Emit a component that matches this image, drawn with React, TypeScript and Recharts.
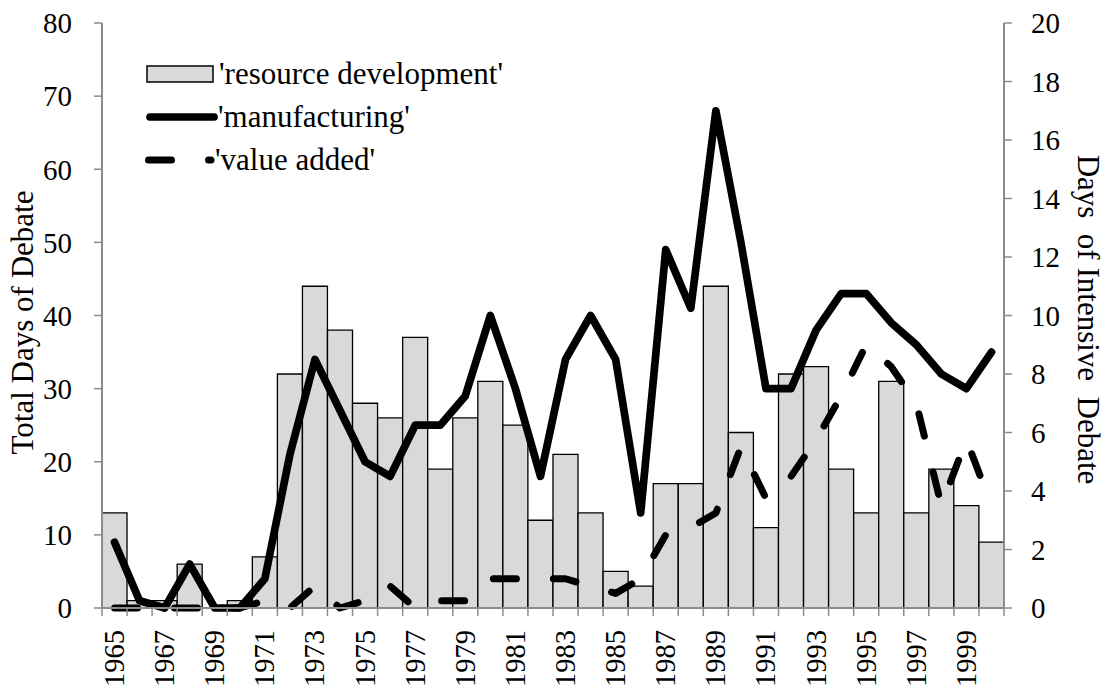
import React from "react";
import { ComposedChart, Bar, Line, XAxis, YAxis, Legend } from "recharts";

const YEARS = [
  "1965", "1966", "1967", "1968", "1969", "1970", "1971", "1972", "1973",
  "1974", "1975", "1976", "1977", "1978", "1979", "1980", "1981", "1982",
  "1983", "1984", "1985", "1986", "1987", "1988", "1989", "1990", "1991",
  "1992", "1993", "1994", "1995", "1996", "1997", "1998", "1999", "2000",
];

// left axis: total days of debate
const RESOURCE_DEVELOPMENT = [
  13, 1, 1, 6, 0, 1, 7, 32, 44, 38, 28, 26, 37, 19, 26, 31, 25, 12,
  21, 13, 5, 3, 17, 17, 44, 24, 11, 32, 33, 19, 13, 31, 13, 19, 14, 9,
];

// right axis: days of intensive debate
const MANUFACTURING = [
  2.25, 0.25, 0, 1.5, 0, 0, 1, 5.25, 8.5, 6.75, 5, 4.5, 6.25, 6.25, 7.25, 10, 7.5, 4.5,
  8.5, 10, 8.5, 3.25, 12.25, 10.25, 17, 12.5, 7.5, 7.5, 9.5, 10.75, 10.75, 9.75, 9, 8, 7.5, 8.75,
];

const VALUE_ADDED = [
  0, 0, 0, 0, 0, 0, 0.25, 0, 0.75, 0, 0.25, 0.75, 0, 0.25, 0.25, 1, 1, 1,
  1, 0.75, 0.5, 1, 2.5, 2.75, 3.25, 5.5, 3.75, 4.5, 5.75, 7.25, 9, 8.25, 7, 3.5, 5.75, 3.5,
];

const LEFT_TICKS = [0, 10, 20, 30, 40, 50, 60, 70, 80];
const RIGHT_TICKS = [0, 2, 4, 6, 8, 10, 12, 14, 16, 18, 20];

const FONT = "'Liberation Serif', 'Times New Roman', serif";
const AXIS_GRAY = "#8c8c8c";
const BAR_FILL = "#d9d9d9";

const WIDTH = 1107;
const HEIGHT = 692;
const PLOT_LEFT = 102;
const PLOT_RIGHT = 1004;
const HALF_BAND = (PLOT_RIGHT - PLOT_LEFT) / YEARS.length / 2;

const data = YEARS.map((year, i) => ({
  year,
  resource: RESOURCE_DEVELOPMENT[i],
  manufacturing: MANUFACTURING[i],
  valueAdded: VALUE_ADDED[i],
}));

function YearTick(props: any) {
  const { x, y, payload, index } = props;
  const isLast = index === YEARS.length - 1;
  return (
    <g>
      <line x1={x - HALF_BAND} x2={x - HALF_BAND} y1={y} y2={y + 8} stroke={AXIS_GRAY} strokeWidth={1.5} />
      {isLast && (
        <line x1={x + HALF_BAND} x2={x + HALF_BAND} y1={y} y2={y + 8} stroke={AXIS_GRAY} strokeWidth={1.5} />
      )}
      {index % 2 === 0 && (
        <text
          transform={`translate(${x},${y + 22}) rotate(-90)`}
          textAnchor="end"
          dominantBaseline="central"
          fontSize={28.5}
          fontFamily={FONT}
          fill="#000"
        >
          {payload.value}
        </text>
      )}
    </g>
  );
}

function LeftTitle({ viewBox }: any) {
  const cx = viewBox.x + 22.5;
  const cy = viewBox.y + viewBox.height / 2 + 7;
  return (
    <text
      transform={`translate(${cx},${cy}) rotate(-90)`}
      textAnchor="middle"
      dominantBaseline="central"
      fontSize={31}
      fontFamily={FONT}
      fill="#000"
    >
      Total Days of Debate
    </text>
  );
}

function RightTitle({ viewBox }: any) {
  const cx = viewBox.x + 84;
  const cy = viewBox.y + viewBox.height / 2 + 4;
  return (
    <text
      transform={`translate(${cx},${cy}) rotate(90)`}
      textAnchor="middle"
      dominantBaseline="central"
      fontSize={31}
      fontFamily={FONT}
      fill="#000"
      style={{ whiteSpace: "pre" }}
    >
      {"Days  of Intensive  Debate"}
    </text>
  );
}

const rowStyle: React.CSSProperties = { display: "flex", alignItems: "center", height: 43 };

function renderLegend() {
  return (
    <div style={{ fontFamily: FONT, fontSize: 31, color: "#000", lineHeight: "43px", whiteSpace: "nowrap" }}>
      <div style={rowStyle}>
        <svg width={74} height={24}>
          <rect x={2} y={4} width={66} height={16} fill={BAR_FILL} stroke="#000" strokeWidth={1.5} />
        </svg>
        <span>'resource development'</span>
      </div>
      <div style={rowStyle}>
        <svg width={73} height={24}>
          <line x1={5} x2={69} y1={12} y2={12} stroke="#000" strokeWidth={7.7} strokeLinecap="round" />
        </svg>
        <span>'manufacturing'</span>
      </div>
      <div style={rowStyle}>
        <svg width={70} height={24}>
          <line
            x1={3.5}
            x2={66}
            y1={12}
            y2={12}
            stroke="#000"
            strokeWidth={7}
            strokeLinecap="round"
            strokeDasharray="23 37"
          />
        </svg>
        <span>'value added'</span>
      </div>
    </div>
  );
}

export default function App() {
  return (
    <div style={{ position: "absolute", left: 0, top: 0 }}>
      <ComposedChart
        width={WIDTH}
        height={HEIGHT}
        data={data}
        margin={{ top: 23, right: 0, bottom: 0, left: 0 }}
        barCategoryGap={0}
        barGap={0}
      >
        <XAxis
          dataKey="year"
          height={84}
          interval={0}
          tickSize={0}
          tickMargin={0}
          tickLine={false}
          axisLine={{ stroke: AXIS_GRAY, strokeWidth: 2 }}
          tick={<YearTick />}
        />
        <YAxis
          yAxisId="left"
          width={PLOT_LEFT}
          domain={[0, 80]}
          ticks={LEFT_TICKS}
          interval={0}
          tickSize={8}
          tickMargin={22}
          axisLine={{ stroke: AXIS_GRAY, strokeWidth: 2 }}
          tickLine={{ stroke: AXIS_GRAY, strokeWidth: 1.5 }}
          tick={{ fill: "#000", fontSize: 29, fontFamily: FONT }}
          label={<LeftTitle />}
        />
        <YAxis
          yAxisId="right"
          orientation="right"
          width={WIDTH - PLOT_RIGHT}
          domain={[0, 20]}
          ticks={RIGHT_TICKS}
          interval={0}
          tickSize={8}
          tickMargin={19}
          axisLine={{ stroke: AXIS_GRAY, strokeWidth: 2 }}
          tickLine={{ stroke: AXIS_GRAY, strokeWidth: 1.5 }}
          tick={{ fill: "#000", fontSize: 29, fontFamily: FONT, textAnchor: "start" }}
          label={<RightTitle />}
        />
        <Legend
          layout="vertical"
          align="center"
          verticalAlign="middle"
          content={renderLegend}
          wrapperStyle={{ left: 145, top: 52, width: "auto", height: "auto" }}
        />
        <Bar
          yAxisId="left"
          dataKey="resource"
          name="'resource development'"
          fill={BAR_FILL}
          stroke="#000"
          strokeWidth={1.3}
          isAnimationActive={false}
        />
        <Line
          yAxisId="right"
          type="linear"
          dataKey="manufacturing"
          name="'manufacturing'"
          stroke="#000"
          strokeWidth={7.7}
          strokeLinejoin="round"
          strokeLinecap="round"
          dot={false}
          activeDot={false}
          isAnimationActive={false}
        />
        <Line
          yAxisId="right"
          type="linear"
          dataKey="valueAdded"
          name="'value added'"
          stroke="#000"
          strokeWidth={7}
          strokeLinejoin="round"
          strokeLinecap="round"
          strokeDasharray="23 37"
          dot={false}
          activeDot={false}
          isAnimationActive={false}
        />
      </ComposedChart>
    </div>
  );
}
